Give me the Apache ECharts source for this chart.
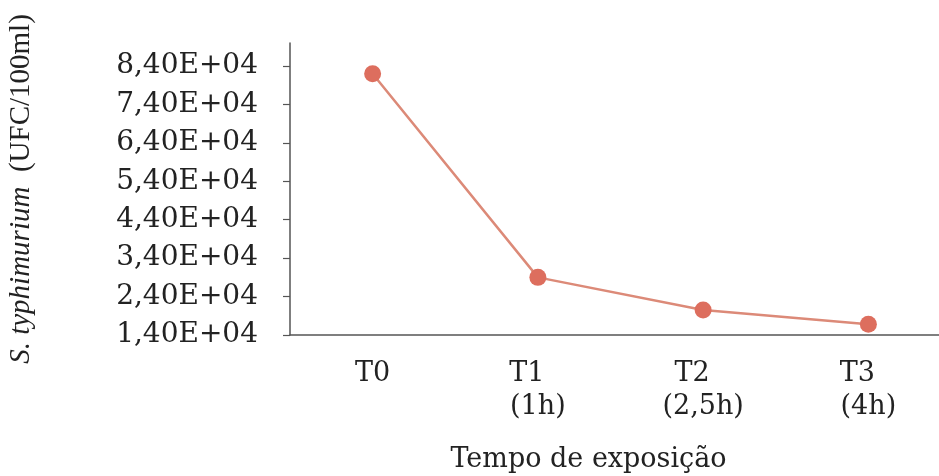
<!DOCTYPE html>
<html>
<head>
<meta charset="utf-8">
<script src="https://cdn.jsdelivr.net/npm/echarts@6/dist/echarts.min.js"></script>
<style>
  html, body { margin: 0; padding: 0; background: #fff; }
  #chart { width: 939px; height: 476px; }
</style>
</head>
<body>
<div id="chart"></div>
<script>
// data
const categories = ['T0', 'T1', 'T2', 'T3']
const subLabels = ['', '(1h)', '(2,5h)', '(4h)']
const counts = [82000, 29000, 20500, 16800]
const yTicks = [14000, 24000, 34000, 44000, 54000, 64000, 74000, 84000]

const chart = echarts.init(document.getElementById('chart'))

// 84000 -> "8,40E+04"
function sci(v) {
  return (v / 10000).toFixed(2).replace('.', ',') + 'E+04'
}

const option = {
  backgroundColor: '#fff',
  animation: false,
  grid: { left: 290, top: 43, right: -12, bottom: 141, outerBoundsMode: 'none', containLabel: false },
  xAxis: {
    type: 'category',
    data: categories,
    boundaryGap: true,
    axisLine: { lineStyle: { color: '#555', width: 1.5 } },
    axisTick: { length: 8, lineStyle: { color: '#555', width: 1.2 } },
    axisLabel: {
      margin: 22,
      interval: 0,
      formatter: (v, i) => subLabels[i] ? '{t|' + v + '}\n{s|' + subLabels[i] + '}' : '{t0|' + v + '}',
      rich: {
        t0: { fontFamily: 'DejaVu Serif', fontSize: 27, color: '#222', lineHeight: 33 },
        t: { fontFamily: 'DejaVu Serif', fontSize: 27, color: '#222', lineHeight: 33, padding: [0, 22, 0, 0] },
        s: { fontFamily: 'DejaVu Serif', fontSize: 27, color: '#222', lineHeight: 33 }
      }
    },
    name: 'Tempo de exposição',
    nameLocation: 'middle',
    nameGap: 111,
    nameTextStyle: {
      fontFamily: 'DejaVu Serif', fontSize: 27, color: '#222',
      padding: [0, 64, 0, 0]
    }
  },
  yAxis: {
    type: 'value',
    min: 14000,
    max: 90000,
    interval: 10000,
    splitLine: { show: false },
    axisLine: { show: true, lineStyle: { color: '#555', width: 1.5 } },
    axisTick: { show: true, length: 7, customValues: yTicks, lineStyle: { color: '#555', width: 1.2 } },
    axisLabel: {
      margin: 32,
      customValues: yTicks,
      formatter: sci,
      fontFamily: 'DejaVu Serif',
      fontSize: 28,
      color: '#222'
    },
    name: '{i|S. typhimurium}{n|  (UFC/100ml)}',
    nameLocation: 'middle',
    nameGap: 254,
    nameRotate: 90,
    nameTextStyle: {
      rich: {
        i: { fontFamily: 'Liberation Serif', fontStyle: 'italic', fontSize: 29, color: '#222' },
        n: { fontFamily: 'Liberation Serif', fontSize: 29, color: '#222' }
      }
    }
  },
  series: [{
    type: 'line',
    data: counts,
    symbol: 'circle',
    symbolSize: 17,
    lineStyle: { color: '#dc8a78', width: 2.5 },
    itemStyle: { color: '#dd6e5e' }
  }]
}

chart.setOption(option)
</script>
</body>
</html>
